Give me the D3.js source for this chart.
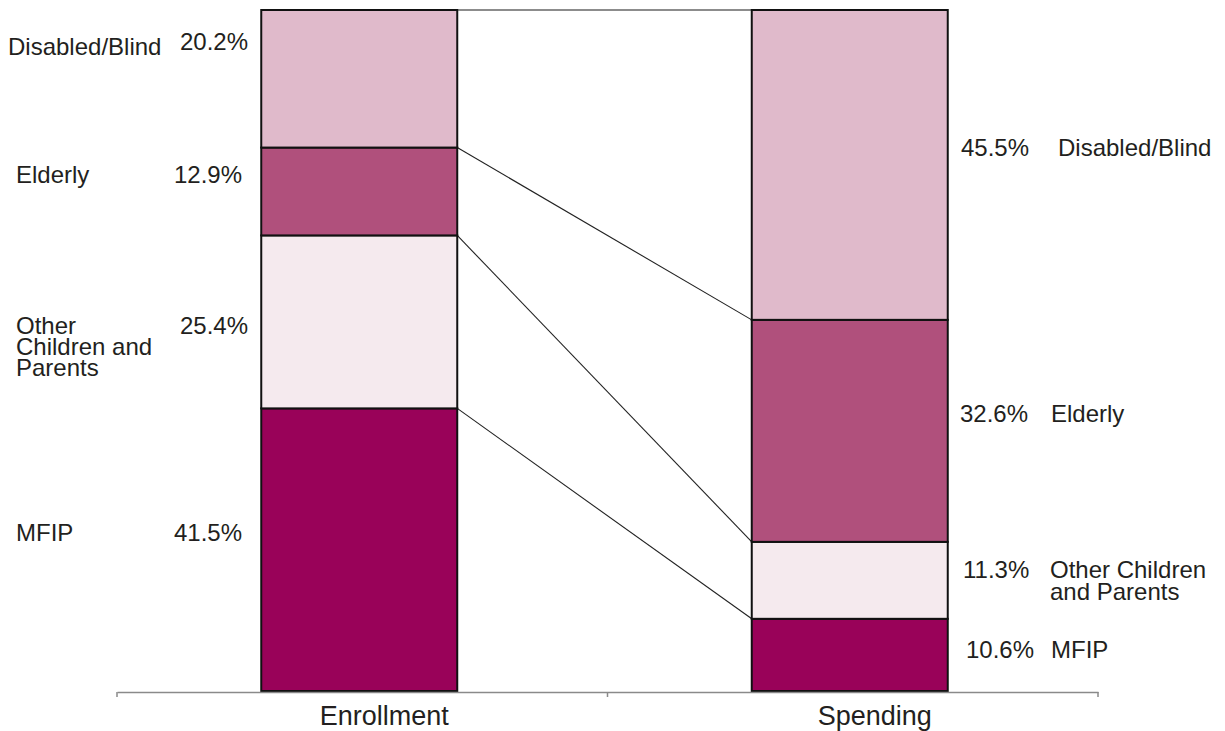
<!DOCTYPE html>
<html>
<head>
<meta charset="utf-8">
<script src="https://cdn.jsdelivr.net/npm/d3@7"></script>
<style>
  html, body { margin: 0; padding: 0; background: #fff; }
  text { font-family: "Liberation Sans", Arial, Helvetica, sans-serif; fill: #231f20; }
</style>
</head>
<body>
<svg id="chart" width="1225" height="731"></svg>
<script>
// Medicaid groups: share of enrollment vs. share of spending (%)
const groups = ["MFIP", "Other Children and Parents", "Elderly", "Disabled/Blind"];
const columns = ["Enrollment", "Spending"];
const enrollment = [41.5, 25.4, 12.9, 20.2];
const spending = [10.6, 11.3, 32.6, 45.5];
const leftNames = [["MFIP"], ["Other", "Children and", "Parents"], ["Elderly"], ["Disabled/Blind"]];
const rightNames = [["MFIP"], ["Other Children", "and Parents"], ["Elderly"], ["Disabled/Blind"]];
const colors = ["#990259", "#f5eaee", "#b0507c", "#e0bacb"];

const svg = d3.select("#chart");

const rows = columns.map((c, ci) => {
  const vals = ci === 0 ? enrollment : spending;
  const r = { column: c };
  groups.forEach((g, i) => { r[g] = vals[i]; });
  return r;
});
const series = d3.stack().keys(groups)(rows);

const x = d3.scaleBand().domain(columns).range([117, 1098]).paddingInner(0).paddingOuter(0);
const y = d3.scaleLinear().domain([0, 100]).range([691, 10]);
const barW = 196;
const barX = c => x(c) + x.bandwidth() / 2 - barW / 2 - 3;

// connectors between matching boundaries of the two stacks
const connectors = series.map(s => ({ a: s[0][1], b: s[1][1] }));
svg.append("g").selectAll("line").data(connectors).join("line")
  .attr("x1", barX("Enrollment") + barW)
  .attr("y1", d => y(d.a))
  .attr("x2", barX("Spending"))
  .attr("y2", d => y(d.b))
  .attr("stroke", (d, i) => i === connectors.length - 1 ? "#666" : "#222")
  .attr("stroke-width", (d, i) => i === connectors.length - 1 ? 1.5 : 1.1);

// stacked bars
svg.append("g").selectAll("g").data(series).join("g")
  .attr("fill", (d, i) => colors[i])
  .selectAll("rect").data(d => d).join("rect")
  .attr("x", d => barX(d.data.column))
  .attr("y", d => y(d[1]))
  .attr("width", barW)
  .attr("height", d => y(d[0]) - y(d[1]))
  .attr("stroke", "#111")
  .attr("stroke-width", 2);

// axis
const axis = svg.append("g").attr("transform", `translate(0,${y(0) + 1})`)
  .call(d3.axisBottom(x).tickSize(0).tickPadding(14));
axis.select(".domain").attr("stroke", "#8a8a8a").attr("stroke-width", 1.5);
axis.selectAll(".tick text")
  .attr("dx", 22)
  .style("font-size", "27px")
  .attr("fill", "#231f20");
const edges = [x.range()[0], ...columns.map(c => x(c) + x.bandwidth())];
axis.selectAll(".edge").data(edges).join("line")
  .attr("class", "edge")
  .attr("x1", d => d).attr("x2", d => d)
  .attr("y1", 0).attr("y2", 5)
  .attr("stroke", "#8a8a8a").attr("stroke-width", 1.5);

// labels
const fs = 24;
const lineH = 21;
const leftPct = [
  { v: enrollment[0], yb: 541, xr: 242 },
  { v: enrollment[1], yb: 334, xr: 248 },
  { v: enrollment[2], yb: 183, xr: 242 },
  { v: enrollment[3], yb: 50, xr: 248 }
];
const leftName = [
  { yb: 541, xl: 16 },
  { yb: 334, xl: 16 },
  { yb: 183, xl: 16 },
  { yb: 55, xl: 8 }
];
const rightBase = [658, 578, 422, 156];
const rightPctX = [966, 963, 960, 961];
const rightNameX = [1051, 1050, 1051, 1058];

const fmt = v => d3.format(".1f")(v) + "%";
const lab = svg.append("g").style("font-size", fs + "px");

lab.selectAll(".lp").data(leftPct).join("text")
  .attr("class", "lp")
  .attr("x", d => d.xr).attr("y", d => d.yb)
  .attr("text-anchor", "end")
  .text(d => fmt(d.v));

lab.selectAll(".ln").data(leftName).join("text")
  .attr("class", "ln")
  .attr("x", d => d.xl).attr("y", d => d.yb)
  .each(function (d, i) {
    d3.select(this).selectAll("tspan").data(leftNames[i]).join("tspan")
      .attr("x", d.xl)
      .attr("y", (t, j) => d.yb + j * lineH)
      .text(t => t);
  });

lab.selectAll(".rp").data(spending).join("text")
  .attr("class", "rp")
  .attr("x", (d, i) => rightPctX[i]).attr("y", (d, i) => rightBase[i])
  .text(d => fmt(d));

lab.selectAll(".rn").data(rightNames).join("text")
  .attr("class", "rn")
  .attr("x", (d, i) => rightNameX[i]).attr("y", (d, i) => rightBase[i])
  .each(function (d, i) {
    d3.select(this).selectAll("tspan").data(d).join("tspan")
      .attr("x", rightNameX[i])
      .attr("y", (t, j) => rightBase[i] + j * (lineH + 1))
      .text(t => t);
  });
</script>
</body>
</html>
